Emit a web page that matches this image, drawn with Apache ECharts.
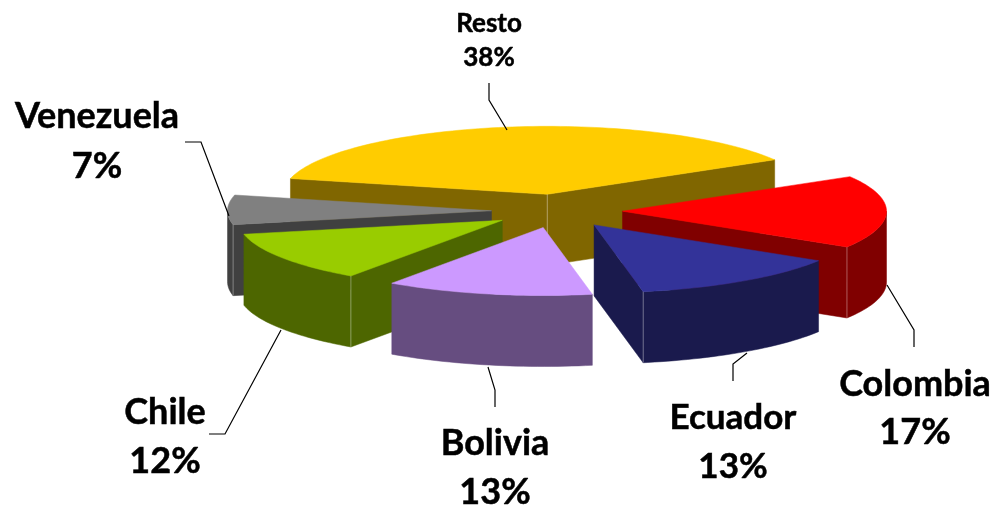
<!DOCTYPE html>
<html>
<head>
<meta charset="utf-8">
<style>html,body{margin:0;padding:0;background:#fff}#chart{width:994px;height:505px}</style>
<script src="https://cdn.jsdelivr.net/npm/echarts@6/dist/echarts.min.js"></script>
</head>
<body>
<div id="chart"></div>
<script>
const categories = ['Resto', 'Colombia', 'Ecuador', 'Bolivia', 'Chile', 'Venezuela'];
const values = [37.8, 17.3, 13.2, 12.7, 12, 7];
const topColors = ['#FFCC00', '#FF0000', '#333399', '#CC99FF', '#99CC00', '#808080'];
const wallColors = ['#806600', '#800000', '#1A1A4D', '#664D80', '#4D6600', '#404040'];

// Projection of the exploded pie (layout only)
const CX = 557, CY = 211, RX = 264, RY = 68, DEPTH = 71, EXPLODE = 65.5, START_DEG = 283.4;
// Back-to-front paint rank of each slice
const paintRank = [0, 2, 4, 5, 3, 1];
// Label centres and leader lines for each slice (layout only)
const labelLayout = [
  { x: 489, y1: 24, y2: 58, size: 26, line: [[489, 83], [489, 100], [507, 130]] },
  { x: 915, y1: 384, y2: 432, size: 36, line: [[914, 347], [914, 330], [887, 285]] },
  { x: 733, y1: 418, y2: 467, size: 35, line: [[733, 381], [733, 364], [747, 353]] },
  { x: 495, y1: 443, y2: 492, size: 36, line: [[495, 407], [495, 390], [488, 367]] },
  { x: 165, y1: 412, y2: 461, size: 36, line: [[209, 434], [225, 434], [281, 330]] },
  { x: 97, y1: 116, y2: 166, size: 36, line: [[185, 142], [201, 142], [229, 216]] }
];

const total = values.reduce((a, b) => a + b, 0);
const rad = d => d * Math.PI / 180;

function renderSlice(params) {
  const i = params.dataIndex;
  const before = values.slice(0, i).reduce((a, b) => a + b, 0);
  const sweep = values[i] / total * 360;
  // Keep the angle below 360 unless the slice itself wraps past the top
  const a0 = (START_DEG + before / total * 360) % 360;
  const a1 = a0 + sweep;
  const mid = rad((a0 + a1) / 2);
  const ax = CX + EXPLODE * Math.sin(mid);
  const ay = CY - EXPLODE * Math.cos(mid) * RY / RX;
  const pt = (deg, dz) => [ax + RX * Math.sin(rad(deg)), ay - RY * Math.cos(rad(deg)) + (dz || 0)];
  const rank = paintRank[i] * 10;
  const children = [];
  const poly = (points, fill, z) => children.push({
    type: 'polygon', shape: { points }, z2: rank + z,
    style: { fill, stroke: fill, lineWidth: 0.5 }
  });
  const edge = (p) => children.push({
    type: 'line', shape: { x1: p[0], y1: p[1], x2: p[0], y2: p[1] + DEPTH }, z2: rank + 4,
    style: { stroke: 'rgba(255,255,255,0.35)', lineWidth: 1 }
  });
  const sin0 = Math.sin(rad(a0)), sin1 = Math.sin(rad(a1));
  const startVisible = sin0 < 0, endVisible = sin1 > 0;
  const wall = deg => {
    const p = pt(deg);
    poly([[ax, ay], p, [p[0], p[1] + DEPTH], [ax, ay + DEPTH]], wallColors[i], 1);
    if (Math.cos(rad(deg)) < 0) edge(p);
  };
  if (startVisible) wall(a0);
  if (endVisible) wall(a1);
  if (startVisible && endVisible) edge([ax, ay]);
  // Outer wall: only the front half of the rim can be seen
  const arcFrom = Math.max(a0, 90), arcTo = Math.min(a1, 270);
  if (arcTo > arcFrom) {
    const upper = [], lower = [];
    for (let d = arcFrom; d < arcTo; d += 1.5) { upper.push(pt(d)); lower.push(pt(d, DEPTH)); }
    upper.push(pt(arcTo)); lower.push(pt(arcTo, DEPTH));
    poly(upper.concat(lower.reverse()), wallColors[i], 2);
  }
  // Top face
  const top = [[ax, ay]];
  for (let d = a0; d < a1; d += 1.5) top.push(pt(d));
  top.push(pt(a1));
  poly(top, topColors[i], 3);
  // Leader and label
  const lay = labelLayout[i];
  children.push({
    type: 'polyline', shape: { points: lay.line }, z2: 200,
    style: { stroke: '#000', lineWidth: 1.2, fill: null }
  });
  const font = 'bold ' + lay.size + 'px Lato, sans-serif';
  const text = (t, y) => children.push({
    type: 'text', z2: 201,
    style: { x: lay.x, y, text: t, fill: '#000', stroke: '#000', lineWidth: 0.5, font, align: 'center', verticalAlign: 'middle' }
  });
  text(categories[i], lay.y1);
  text(Math.round(values[i] / total * 100) + '%', lay.y2);
  return { type: 'group', children };
}

const chart = echarts.init(document.getElementById('chart'), null, { renderer: 'canvas' });
chart.setOption({
  animation: false,
  backgroundColor: '#fff',
  series: [{
    type: 'custom',
    coordinateSystem: 'none',
    silent: true,
    clip: false,
    renderItem: renderSlice,
    data: values.map((v, i) => ({ name: categories[i], value: v }))
  }]
});
</script>
</body>
</html>
